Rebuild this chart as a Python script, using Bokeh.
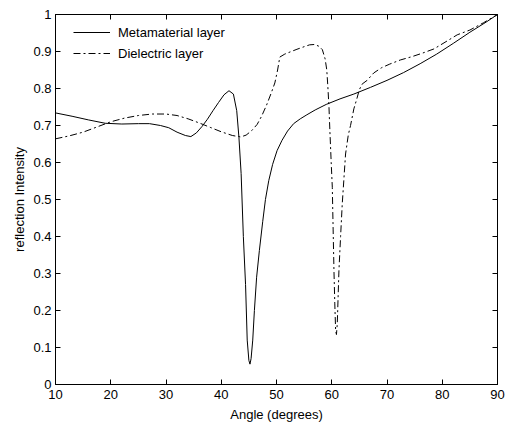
from bokeh.plotting import figure
from bokeh.models import (Range1d, LinearAxis, FixedTicker, Legend, LegendItem,
                          CustomLabelingPolicy)
from bokeh.embed import file_html
from bokeh.resources import INLINE

# ---- data ----
meta_x = [10, 13, 16, 19, 22, 25, 27, 29, 30.5, 32, 33.5, 34.5, 35.5, 36.5, 37.5,
          38.5, 39.5, 40.5, 41.4, 42.2, 42.8, 43.2, 43.6, 44.0, 44.4, 44.7, 45.0,
          45.2, 45.4, 45.7, 46.0, 46.4, 46.9, 47.5, 48.0, 48.6, 49.3, 50.1, 51.0,
          52.0, 53.1, 54.3, 55.5, 57, 59, 61.5, 64, 67, 70, 73, 76, 79, 82, 85, 88, 90]
meta_y = [0.734, 0.725, 0.715, 0.706, 0.704, 0.705, 0.705, 0.700, 0.694, 0.682,
          0.673, 0.670, 0.680, 0.697, 0.717, 0.740, 0.762, 0.783, 0.794, 0.785,
          0.740, 0.668, 0.570, 0.400, 0.270, 0.120, 0.065, 0.055, 0.070, 0.120,
          0.200, 0.290, 0.362, 0.440, 0.500, 0.551, 0.595, 0.632, 0.660, 0.685,
          0.705, 0.718, 0.729, 0.742, 0.757, 0.772, 0.785, 0.803, 0.822, 0.843,
          0.867, 0.893, 0.922, 0.952, 0.980, 1.000]

diel_x = [10, 12.5, 15, 17.5, 20, 22.5, 25, 27.5, 30, 32, 34, 36, 38, 40, 42, 43.5,
          44.5, 45.5, 46.5, 47.3, 48.2, 49.0, 49.7, 50.2, 50.6, 51.5, 52.5, 53.7,
          55, 56, 56.9, 57.7, 58.3, 58.8, 59.1, 59.3, 59.5, 59.65, 59.9, 60.1,
          60.25, 60.4, 60.55, 60.7, 60.85, 61.0, 61.3, 61.6, 61.9, 62.5, 63.0,
          63.4, 64.0, 64.5, 65.0, 65.5, 66.4, 67.6, 69, 70.5, 72.4, 74.5, 76.5,
          78.5, 80.5, 82.7, 85, 87.5, 90]
diel_y = [0.664, 0.672, 0.682, 0.696, 0.710, 0.720, 0.727, 0.731, 0.731, 0.727,
          0.718, 0.707, 0.695, 0.683, 0.673, 0.669, 0.674, 0.686, 0.703, 0.725,
          0.755, 0.786, 0.815, 0.850, 0.885, 0.893, 0.899, 0.906, 0.913, 0.918,
          0.919, 0.914, 0.905, 0.880, 0.850, 0.804, 0.749, 0.690, 0.600, 0.533,
          0.420, 0.308, 0.220, 0.146, 0.135, 0.164, 0.308, 0.400, 0.488, 0.623,
          0.675, 0.700, 0.745, 0.770, 0.797, 0.812, 0.822, 0.842, 0.856, 0.866,
          0.877, 0.886, 0.896, 0.907, 0.925, 0.945, 0.958, 0.978, 1.000]

x_ticks = [10, 20, 30, 40, 50, 60, 70, 80, 90]
y_ticks = [0, 0.1, 0.2, 0.3, 0.4, 0.5, 0.6, 0.7, 0.8, 0.9, 1]
y_tick_labels = ["0", "0.1", "0.2", "0.3", "0.4", "0.5", "0.6", "0.7", "0.8", "0.9", "1"]

series_names = ["Metamaterial layer", "Dielectric layer"]
x_label = "Angle (degrees)"
y_label = "reflection Intensity"

FONT = "Liberation Sans"
FS = "13px"

p = figure(frame_width=442, frame_height=370,
           x_range=Range1d(10, 90), y_range=Range1d(0, 1),
           output_backend="svg", toolbar_location=None,
           x_axis_label=x_label, y_axis_label=y_label,
           min_border_left=55, min_border_top=14, min_border_right=9,
           min_border_bottom=40)
p.grid.visible = False
p.outline_line_color = "black"
p.background_fill_color = "white"
p.border_fill_color = "white"

# extra axes for the box ticks (no labels)
hide_labels = CustomLabelingPolicy(code="""
const ids = [...indices]
for (const i of ids) { indices.set(i, false) }
return indices
""")
p.add_layout(LinearAxis(), "above")
p.add_layout(LinearAxis(), "right")

for ax in p.xaxis:
    ax.ticker = FixedTicker(ticks=x_ticks)
for ax in p.yaxis:
    ax.ticker = FixedTicker(ticks=y_ticks)
    ax.major_label_overrides = {t: s for t, s in zip(y_ticks, y_tick_labels)}

for ax in p.axis:
    ax.axis_line_color = "black"
    ax.axis_line_width = 1
    ax.major_tick_in = 5
    ax.major_tick_out = 0
    ax.minor_tick_in = 0
    ax.minor_tick_out = 0
    ax.major_tick_line_color = "black"
    ax.major_label_text_font = FONT
    ax.major_label_text_font_size = FS
    ax.major_label_text_color = "black"
    ax.axis_label_text_font = FONT
    ax.axis_label_text_font_size = FS
    ax.axis_label_text_font_style = "normal"
    ax.axis_label_text_color = "black"

p.xaxis[0].major_label_standoff = 5
p.xaxis[0].axis_label_standoff = 0
p.yaxis[0].major_label_standoff = 4
p.yaxis[0].axis_label_standoff = 3

for ax in (p.above[0], p.right[0]):
    ax.major_label_text_font_size = "0px"
    ax.major_label_standoff = 0
    ax.major_label_policy = hide_labels
    ax.axis_label = None

r1 = p.line(meta_x, meta_y, line_color="black", line_width=1)
r2 = p.line(diel_x, diel_y, line_color="black", line_width=1, line_dash="7 3 2 3")

legend = Legend(items=[LegendItem(label=series_names[0], renderers=[r1]),
                       LegendItem(label=series_names[1], renderers=[r2])],
                location=(18, 321), padding=8, spacing=1,
                glyph_width=37, glyph_height=20, label_height=20,
                label_standoff=8,
                label_text_font=FONT, label_text_font_size=FS,
                label_text_color="black",
                background_fill_alpha=0, border_line_color=None)
p.add_layout(legend, "center")

open("out.html", "w").write(file_html(p, INLINE))
